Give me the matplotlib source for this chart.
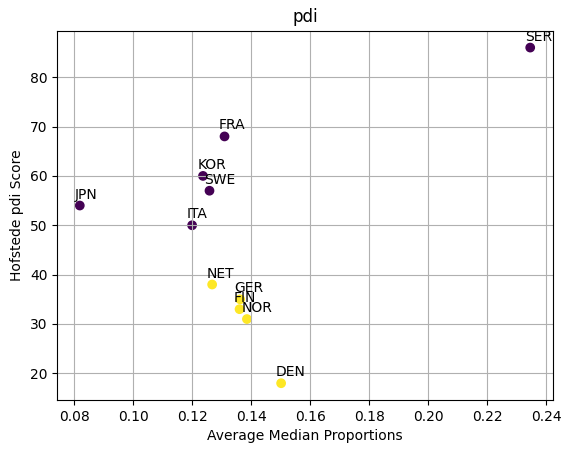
import numpy as np
import matplotlib
matplotlib.use("Agg")
import matplotlib.pyplot as plt

# country codes, median proportions, hofstede pdi scores, cluster labels
countries = ["SER", "FRA", "KOR", "SWE", "ITA", "JPN", "NET", "GER", "FIN", "NOR", "DEN"]
median_props = [0.2346, 0.1309, 0.1236, 0.1258, 0.1199, 0.0818, 0.1267, 0.1362, 0.1360, 0.1385, 0.1501]
pdi_scores = [86, 68, 60, 57, 50, 54, 38, 35, 33, 31, 18]
clusters = [0, 0, 0, 0, 0, 0, 1, 1, 1, 1, 1]

fig = plt.figure(figsize=(5.71, 4.53), dpi=100)
ax = fig.add_axes([0.1003, 0.117, 0.8677, 0.815])

ax.scatter(median_props, pdi_scores, c=clusters, cmap="viridis")
for name, x, y in zip(countries, median_props, pdi_scores):
    ax.annotate(name, (x, y), textcoords="offset points", xytext=(-4, 5))

ax.set_title("pdi")
ax.set_xlabel("Average Median Proportions")
ax.set_ylabel("Hofstede pdi Score")
ax.grid(True)

fig.savefig("out.png", dpi=100)
